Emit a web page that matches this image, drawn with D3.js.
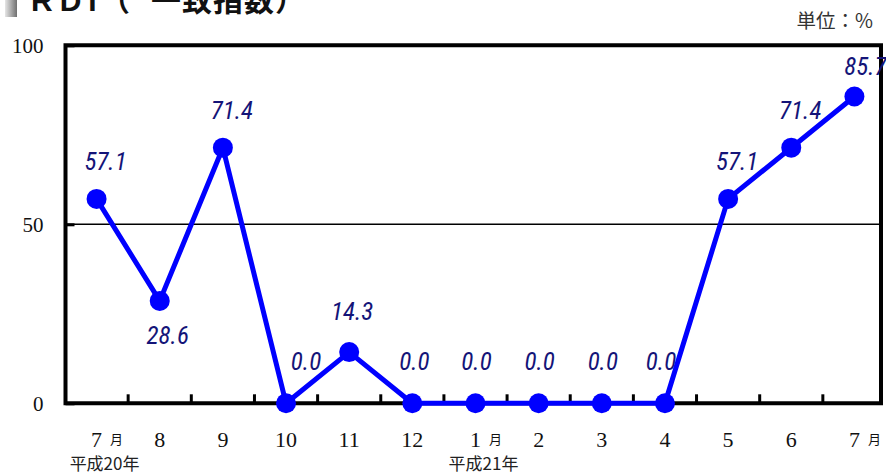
<!DOCTYPE html>
<html>
<head>
<meta charset="utf-8">
<script src="https://cdn.jsdelivr.net/npm/d3@7/dist/d3.min.js"></script>
<style>
  html, body { margin: 0; padding: 0; background: #fff; }
  svg { display: block; }
</style>
</head>
<body>
<svg id="chart" width="886" height="475"></svg>
<script>
// Monthly RDI (coincident index), Heisei 20.7 – Heisei 21.7
const periods = ["H20.7","H20.8","H20.9","H20.10","H20.11","H20.12",
                 "H21.1","H21.2","H21.3","H21.4","H21.5","H21.6","H21.7"];
const monthLabels = ["7","8","9","10","11","12","1","2","3","4","5","6","7"];
const monthUnits  = ["月","","","","","","月","","","","","","月"];
const rdiValues   = [57.1, 28.6, 71.4, 0.0, 14.3, 0.0, 0.0, 0.0, 0.0, 0.0, 57.1, 71.4, 85.7];
const yTicks      = [0, 50, 100];
const eraPeriods  = ["H20.7", "H21.1"];
const eraLabels   = ["平成20年", "平成21年"];
const titleText   = "RDI";
const titleOpen   = "（";
const titleSub    = "一致指数）";
const unitText    = "単位：%";

const svg = d3.select("#chart");

const frame = { left: 65.5, right: 881, top: 45.3, bottom: 403.3 };

const x = d3.scaleBand().domain(periods).range([65, 886]).padding(0);
const cx = p => x(p) + x.bandwidth() / 2;
const y = d3.scaleLinear().domain([0, 100]).range([frame.bottom, frame.top]);

const serif = "'Liberation Serif', 'DejaVu Serif', serif";
const cjk = "'Noto Sans CJK JP', 'Noto Sans', sans-serif";

// title strip (runs off the top of the page)
const defs = svg.append("defs");
const grad = defs.append("linearGradient").attr("id", "bar").attr("x1", 0).attr("x2", 1);
grad.append("stop").attr("offset", 0).attr("stop-color", "#e6e6e6");
grad.append("stop").attr("offset", 1).attr("stop-color", "#707070");
svg.append("rect").attr("x", 5).attr("y", 0).attr("width", 12).attr("height", 17).attr("fill", "url(#bar)");
const titleFont = { family: "'Liberation Sans', Arial, sans-serif", size: 30 };
svg.append("text").attr("x", 31).attr("y", 11)
  .attr("font-family", titleFont.family).attr("font-weight", 700)
  .attr("font-size", titleFont.size).attr("letter-spacing", 7).attr("fill", "#111").text(titleText);
svg.append("text").attr("x", 100).attr("y", 11)
  .attr("font-family", cjk).attr("font-weight", 700)
  .attr("font-size", titleFont.size).attr("fill", "#111").text(titleOpen);
svg.append("text").attr("x", 151).attr("y", 11)
  .attr("font-family", cjk).attr("font-weight", 700)
  .attr("font-size", titleFont.size).attr("letter-spacing", 1).attr("fill", "#111").text(titleSub);

// unit
svg.append("text").attr("x", 873).attr("y", 28).attr("text-anchor", "end")
  .attr("font-family", cjk).attr("font-size", 19.5).attr("fill", "#333").text(unitText);

// 50 reference line
svg.append("line")
  .attr("x1", frame.left).attr("x2", frame.right)
  .attr("y1", y(50)).attr("y2", y(50))
  .attr("stroke", "#000").attr("stroke-width", 1.5);

// y axis (ticks point inward)
const yAxis = svg.append("g")
  .attr("transform", `translate(${frame.left},0)`)
  .call(d3.axisLeft(y).tickValues(yTicks).tickSize(-9).tickPadding(22).tickFormat(d3.format("d")));
yAxis.select(".domain").remove();
yAxis.selectAll(".tick line").attr("stroke", "#000").attr("stroke-width", 3);
yAxis.selectAll(".tick text")
  .attr("font-family", serif).attr("font-size", 21).attr("fill", "#111");

// x ticks at month boundaries, pointing up
svg.append("g").selectAll("line")
  .data(periods.slice(1))
  .join("line")
  .attr("x1", d => x(d)).attr("x2", d => x(d))
  .attr("y1", frame.bottom).attr("y2", frame.bottom - 9)
  .attr("stroke", "#000").attr("stroke-width", 3);

// frame
svg.append("path")
  .attr("d", `M${frame.left},${frame.bottom}V${frame.top}H${frame.right}V${frame.bottom}Z`)
  .attr("fill", "none").attr("stroke", "#000").attr("stroke-width", 4);

// month labels
const xl = svg.append("g");
periods.forEach((p, i) => {
  xl.append("text").attr("x", cx(p)).attr("y", 447).attr("text-anchor", "middle")
    .attr("font-family", serif).attr("font-size", 22).attr("fill", "#111").text(monthLabels[i]);
  if (monthUnits[i]) {
    const w = monthLabels[i].length * 5.5;
    xl.append("text").attr("x", cx(p) + w + 8).attr("y", 444)
      .attr("font-family", cjk).attr("font-size", 13).attr("fill", "#111").text(monthUnits[i]);
  }
});
eraPeriods.forEach((p, i) => {
  xl.append("text").attr("x", cx(p) + 8).attr("y", 470).attr("text-anchor", "middle")
    .attr("font-family", cjk).attr("font-size", 17).attr("fill", "#222").text(eraLabels[i]);
});

// series
const pts = periods.map((p, i) => ({ p, v: rdiValues[i], i }));
svg.append("path")
  .datum(pts)
  .attr("d", d3.line().x(d => cx(d.p)).y(d => y(d.v)))
  .attr("fill", "none").attr("stroke", "#0000ff").attr("stroke-width", 5)
  .attr("stroke-linejoin", "round");
svg.append("g").selectAll("circle")
  .data(pts).join("circle")
  .attr("cx", d => cx(d.p)).attr("cy", d => y(d.v)).attr("r", 10)
  .attr("fill", "#0000ff");

// value labels; placement nudges keep text clear of the line
const nudge = {
  1:  { dx: 8,  dy: 43 },
  3:  { dx: 20, dy: -33 },
  4:  { dx: 3,  dy: -32 },
  5:  { dx: 2,  dy: -33 },
  6:  { dx: 1,  dy: -33 },
  7:  { dx: 1,  dy: -33 },
  8:  { dx: 1,  dy: -33 },
  9:  { dx: -4, dy: -33 },
  12: { dx: 11, dy: -21 }
};
svg.append("g").selectAll("text")
  .data(pts).join("text")
  .attr("x", d => cx(d.p) + (nudge[d.i] ? nudge[d.i].dx : 9))
  .attr("y", d => y(d.v) + (nudge[d.i] ? nudge[d.i].dy : -29))
  .attr("text-anchor", "middle")
  .attr("font-family", "'Liberation Sans Narrow', 'Roboto Condensed', 'Liberation Sans', sans-serif")
  .attr("font-style", "italic").attr("font-size", 25).attr("fill", "#141478")
  .text(d => d3.format(".1f")(d.v));
</script>
</body>
</html>
